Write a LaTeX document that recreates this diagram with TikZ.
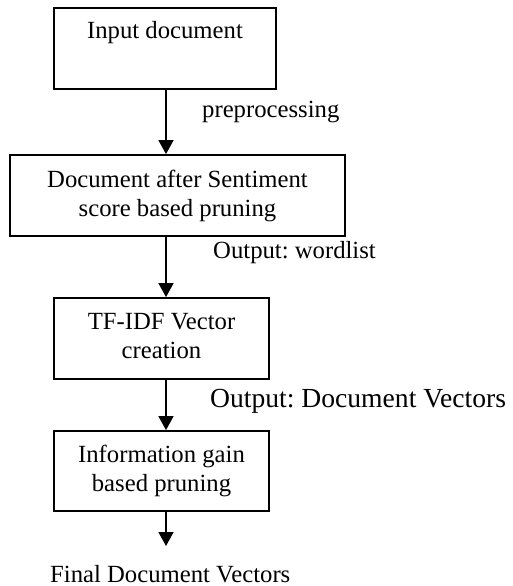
\documentclass[tikz,border=0pt]{standalone}
\usepackage{fontspec}
\setmainfont{Liberation Serif}
\usetikzlibrary{arrows.meta}
\frenchspacing
\begin{document}
\begin{tikzpicture}[x=1pt,y=-1pt,
  boxnode/.style={draw, line width=1.8pt, rectangle, align=center, inner sep=0pt,
    font=\fontsize{24.7}{29}\selectfont},
  lbl/.style={anchor=base west, inner sep=0pt, font=\fontsize{24.7}{29}\selectfont},
  arr/.style={line width=1.5pt, -{Triangle[length=14pt,width=15pt]}}]
\useasboundingbox (0,0) rectangle (512,586);
\node[boxnode, minimum width=222pt, minimum height=81pt] (b1) at (165,48.5) {Input document\\\strut};
\node[boxnode, minimum width=335pt, minimum height=81pt] (b2) at (177.5,195.5) {Document after Sentiment\\score based pruning};
\node[boxnode, minimum width=215pt, minimum height=81pt] (b3) at (161.5,338.5) {TF-IDF Vector\\creation\vphantom{g}};
\node[boxnode, minimum width=215pt, minimum height=80pt] (b4) at (161.5,471) {Information gain\\based pruning};
\coordinate (ax) at (166,0);
\coordinate (endpt) at (166,546);
\node[lbl] (l1) at (202,117.5) {preprocessing};
\node[lbl] (l2) at (213,258) {Output: wordlist};
\node[lbl, font=\fontsize{27.6}{32}\selectfont] (l3) at (210,407) {Output: Document Vectors};
\node[lbl] (l4) at (50,582) {Final Document Vectors};
\draw[arr] (b1.south -| ax) -- (b2.north -| ax);
\draw[arr] (b2.south -| ax) -- (b3.north -| ax);
\draw[arr] (b3.south -| ax) -- (b4.north -| ax);
\draw[arr] (b4.south -| ax) -- (endpt);
\end{tikzpicture}
\end{document}
